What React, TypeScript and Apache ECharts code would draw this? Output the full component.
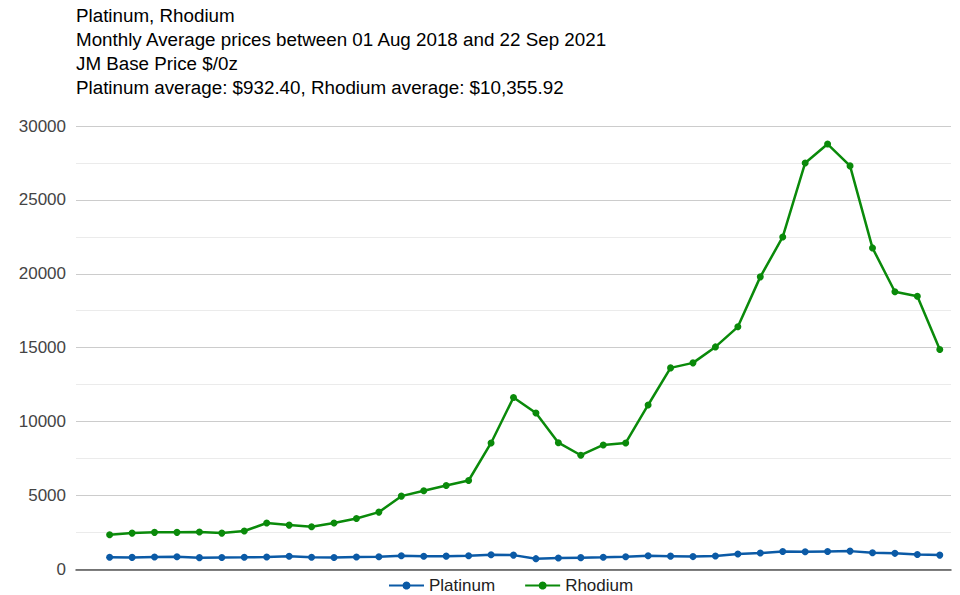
import React, { useEffect, useRef } from "react";
import * as echarts from "echarts";

const titleLines = [
  "Platinum, Rhodium",
  "Monthly Average prices between 01 Aug 2018 and 22 Sep 2021",
  "JM Base Price $/0z",
  "Platinum average: $932.40, Rhodium average: $10,355.92",
];

const months = [
  "",
  "Aug 2018", "Sep 2018", "Oct 2018", "Nov 2018", "Dec 2018",
  "Jan 2019", "Feb 2019", "Mar 2019", "Apr 2019", "May 2019", "Jun 2019",
  "Jul 2019", "Aug 2019", "Sep 2019", "Oct 2019", "Nov 2019", "Dec 2019",
  "Jan 2020", "Feb 2020", "Mar 2020", "Apr 2020", "May 2020", "Jun 2020",
  "Jul 2020", "Aug 2020", "Sep 2020", "Oct 2020", "Nov 2020", "Dec 2020",
  "Jan 2021", "Feb 2021", "Mar 2021", "Apr 2021", "May 2021", "Jun 2021",
  "Jul 2021", "Aug 2021", "Sep 2021",
];

const platinum = [
  null,
  810, 805, 830, 850, 790, 800, 810, 835, 880, 820, 800, 835, 850, 920,
  880, 890, 920, 980, 960, 720, 760, 790, 815, 850, 920, 890, 860, 900,
  1035, 1100, 1210, 1190, 1210, 1230, 1125, 1080, 1000, 960,
];

const rhodium = [
  null,
  2340, 2450, 2500, 2500, 2520, 2450, 2590, 3130, 2990, 2880, 3130, 3440,
  3870, 4950, 5310, 5670, 6010, 8550, 11630, 10575, 8570, 7720, 8415, 8550,
  11120, 13630, 13970, 15050, 16410, 19790, 22490, 27500, 28780, 27300,
  21750, 18780, 18480, 14880,
];

const yTicks = { min: 0, max: 30000, interval: 5000 };

export default function App() {
  const ref = useRef<HTMLDivElement>(null);
  useEffect(() => {
    if (!ref.current) return;
    const chart = echarts.init(ref.current, undefined, { renderer: "svg" });
    const font = "'Liberation Sans', Arial, sans-serif";
    chart.setOption({
      animation: false,
      backgroundColor: "#ffffff",
      textStyle: { fontFamily: font },
      graphic: titleLines.map((t, i) => ({
        type: "text",
        x: 76,
        y: 15 + i * 24,
        style: {
          text: t,
          font: `18.8px ${font}`,
          fill: "#000000",
          textVerticalAlign: "middle",
        },
      })),
      grid: { left: 76, right: 9, top: 126, bottom: 25.7 },
      legend: {
        top: 572,
        left: 383,
        itemWidth: 35,
        itemHeight: 10,
        itemGap: 29,
        textStyle: { fontSize: 17, color: "#222", fontFamily: font },
        data: ["Platinum", "Rhodium"],
      },
      xAxis: {
        type: "category",
        data: months,
        boundaryGap: true,
        axisLabel: { show: false },
        axisTick: { show: false },
        axisLine: { lineStyle: { color: "#555", width: 1.5 } },
      },
      yAxis: {
        type: "value",
        min: yTicks.min,
        max: yTicks.max,
        interval: yTicks.interval,
        axisLabel: {
          fontSize: 17,
          color: "#444",
          margin: 10,
          fontFamily: font,
          formatter: (v: number) => String(v),
        },
        axisLine: { show: false },
        axisTick: { show: false },
        splitLine: { lineStyle: { color: "#cccccc", width: 1 } },
        minorTick: { show: false, splitNumber: 2 },
        minorSplitLine: { show: true, lineStyle: { color: "#ebebeb", width: 1 } },
      },
      series: [
        {
          name: "Platinum",
          type: "line",
          data: platinum,
          color: "#0b5aa6",
          symbol: "circle",
          symbolSize: 7,
          lineStyle: { width: 2.5 },
          connectNulls: false,
        },
        {
          name: "Rhodium",
          type: "line",
          data: rhodium,
          color: "#0a8a0a",
          symbol: "circle",
          symbolSize: 7,
          lineStyle: { width: 2.5 },
          connectNulls: false,
        },
      ],
    });
    return () => chart.dispose();
  }, []);
  return (
    <div
      ref={ref}
      style={{ position: "absolute", left: 0, top: 0, width: 960, height: 595 }}
    />
  );
}
